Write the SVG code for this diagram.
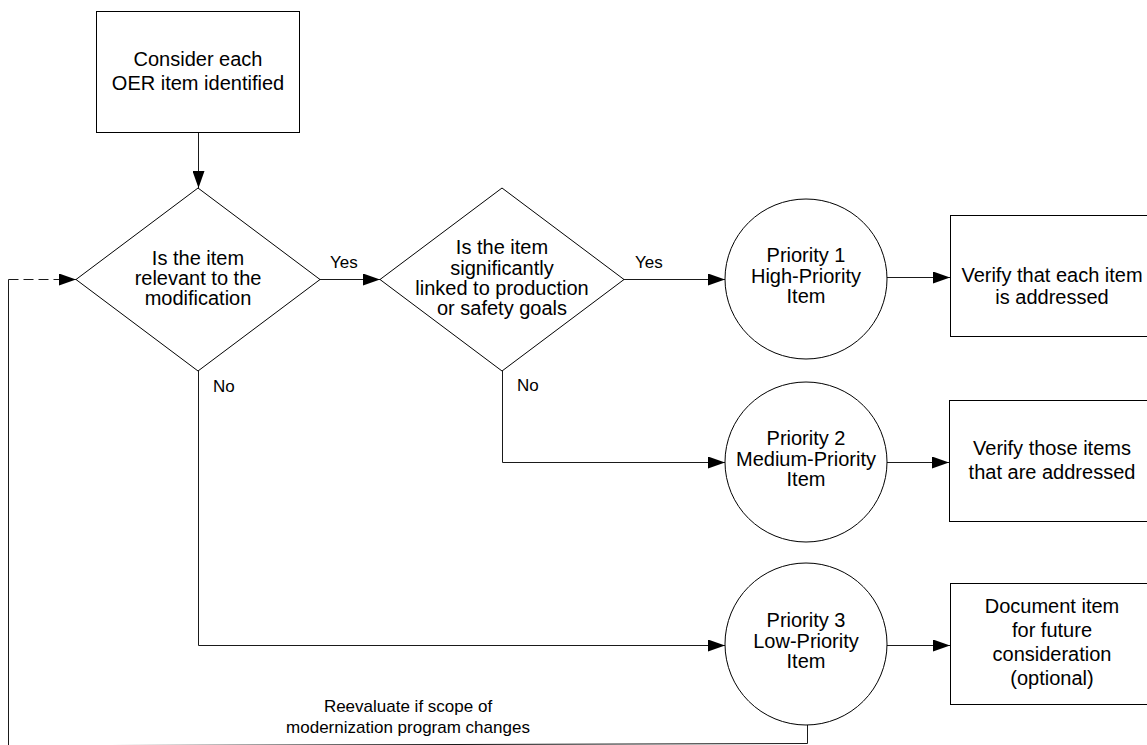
<svg xmlns="http://www.w3.org/2000/svg" width="1147" height="745" viewBox="0 0 1147 745">
  <style>
    .shape { fill: #fff; stroke: #000; stroke-width: 1; }
    .line { fill: none; stroke: #1a1a1a; stroke-width: 1; }
    .dash { stroke-dasharray: 10 5; }
    .t { font-family: "Liberation Sans", Arial, sans-serif; font-size: 20px; fill: #000; text-anchor: middle; }
    .lbl { font-family: "Liberation Sans", Arial, sans-serif; font-size: 17px; fill: #000; }
    .note { font-family: "Liberation Sans", Arial, sans-serif; font-size: 17px; fill: #000; text-anchor: middle; }
  </style>
  <defs>
    <marker id="arrow" markerUnits="userSpaceOnUse" markerWidth="17" markerHeight="12" refX="17" refY="6" orient="auto">
      <path d="M0,0 L17,6 L0,12 Z" fill="#000"/>
    </marker>
  </defs>
  <rect width="1147" height="745" fill="#fff"/>

  <!-- connectors -->
  <g id="connectors">
    <path class="line" d="M198.5,132 V188" marker-end="url(#arrow)"/>
    <path class="line" d="M319,279.5 H380" marker-end="url(#arrow)"/>
    <path class="line" d="M623,279.5 H725" marker-end="url(#arrow)"/>
    <path class="line" d="M502.5,371 V462.5 H725" marker-end="url(#arrow)"/>
    <path class="line" d="M198.5,371 V645.5 H725" marker-end="url(#arrow)"/>
    <path class="line" d="M887,277.5 H950" marker-end="url(#arrow)"/>
    <path class="line" d="M887,462.5 H949" marker-end="url(#arrow)"/>
    <path class="line" d="M887,645.5 H950" marker-end="url(#arrow)"/>
    <!-- feedback loop back to the first decision -->
    <path class="line" d="M807.5,725 V743.5 L8.5,745.8 V279.5"/>
    <path class="line dash" d="M8.5,279.5 H76" marker-end="url(#arrow)"/>
    <text class="lbl" x="330" y="268">Yes</text>
    <text class="lbl" x="635" y="268">Yes</text>
    <text class="lbl" x="213" y="392">No</text>
    <text class="lbl" x="517" y="391">No</text>
    <text class="note" x="408" y="712">Reevaluate if scope of</text>
    <text class="note" x="408" y="733">modernization program changes</text>
  </g>

  <g id="start">
    <rect class="shape" x="96.5" y="11.5" width="203" height="121"/>
    <text class="t" x="198" y="66">Consider each</text>
    <text class="t" x="198" y="90">OER item identified</text>
  </g>

  <g id="decision-relevant">
    <polygon class="shape" points="198,188 320,279.5 198,371 76,279.5"/>
    <text class="t" x="198" y="265">Is the item</text>
    <text class="t" x="198" y="285">relevant to the</text>
    <text class="t" x="198" y="305">modification</text>
  </g>

  <g id="decision-linked">
    <polygon class="shape" points="502,188 624,279.5 502,371 380,279.5"/>
    <text class="t" x="502" y="254">Is the item</text>
    <text class="t" x="502" y="274.5">significantly</text>
    <text class="t" x="502" y="295">linked to production</text>
    <text class="t" x="502" y="315">or safety goals</text>
  </g>

  <g id="priority-1">
    <ellipse class="shape" cx="806" cy="279" rx="81" ry="80"/>
    <text class="t" x="806" y="262">Priority 1</text>
    <text class="t" x="806" y="283">High-Priority</text>
    <text class="t" x="806" y="303">Item</text>
  </g>

  <g id="priority-2">
    <ellipse class="shape" cx="806" cy="462" rx="81" ry="80"/>
    <text class="t" x="806" y="445">Priority 2</text>
    <text class="t" x="806" y="466">Medium-Priority</text>
    <text class="t" x="806" y="486">Item</text>
  </g>

  <g id="priority-3">
    <ellipse class="shape" cx="806" cy="644" rx="81" ry="81"/>
    <text class="t" x="806" y="627">Priority 3</text>
    <text class="t" x="806" y="648">Low-Priority</text>
    <text class="t" x="806" y="668">Item</text>
  </g>

  <g id="verify-each">
    <rect class="shape" x="950.5" y="215.5" width="204" height="121"/>
    <text class="t" x="1052" y="282">Verify that each item</text>
    <text class="t" x="1052" y="304">is addressed</text>
  </g>

  <g id="verify-addressed">
    <rect class="shape" x="949.5" y="400.5" width="204" height="121"/>
    <text class="t" x="1052" y="455">Verify those items</text>
    <text class="t" x="1052" y="479">that are addressed</text>
  </g>

  <g id="document-item">
    <rect class="shape" x="950.5" y="583.5" width="204" height="121"/>
    <text class="t" x="1052" y="613">Document item</text>
    <text class="t" x="1052" y="637">for future</text>
    <text class="t" x="1052" y="661">consideration</text>
    <text class="t" x="1052" y="685">(optional)</text>
  </g>
</svg>
